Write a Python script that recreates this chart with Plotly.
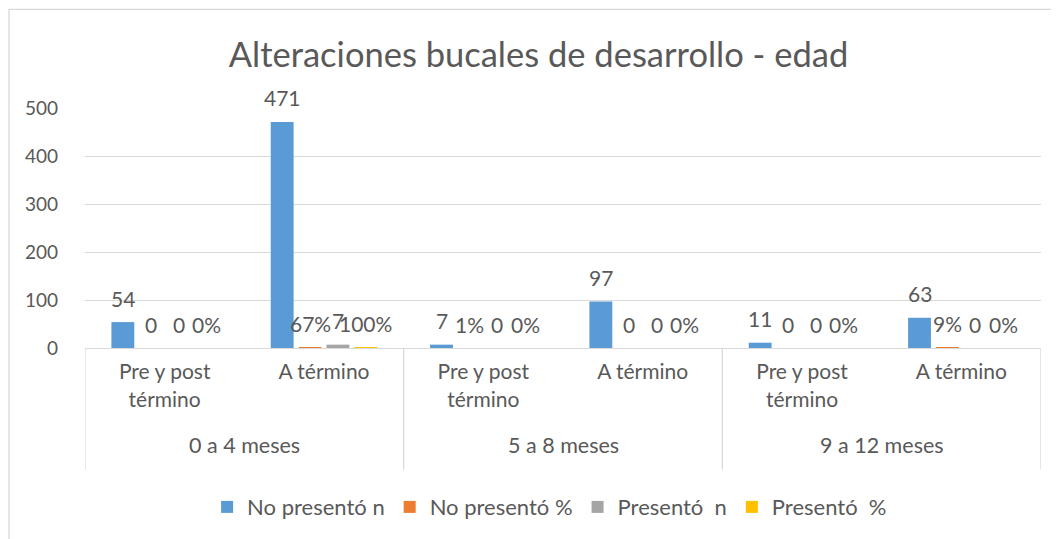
import plotly.graph_objects as go

groups = ["0 a 4 meses", "5 a 8 meses", "9 a 12 meses"]
subcats = ["Pre y post<br>término", "A término"] * 3
series_names = ["No presentó n", "No presentó %", "Presentó\u00a0 n", "Presentó\u00a0 %"]
no_pres_n = [54, 471, 7, 97, 11, 63]
no_pres_pct = [0, 0.67, 0.01, 0, 0, 0.09]
no_pres_pct_lbl = ["0", "67%", "1%", "0", "0", "9%"]
pres_n = [0, 7, 0, 0, 0, 0]
pres_pct = [0, 1.0, 0, 0, 0, 0]
pres_pct_lbl = ["0%", "100%", "0%", "0%", "0%", "0%"]
y_ticks = [0, 100, 200, 300, 400, 500]

colors = ["#5B9BD5", "#ED7D31", "#A5A5A5", "#FFC000"]
FONT = "Lato"
TXT = "#595959"
GRID = "#D9D9D9"
BARGAP = 0.30

values = [no_pres_n, no_pres_pct, pres_n, pres_pct]
labels = [[str(v) for v in no_pres_n], no_pres_pct_lbl,
          [str(v) for v in pres_n], pres_pct_lbl]

xs = list(range(len(subcats)))
fig = go.Figure()
for name, vals, col in zip(series_names, values, colors):
    fig.add_trace(go.Bar(x=xs, y=vals, name=name, marker_color=col,
                         marker_line_width=0))

slot = (1 - BARGAP) / len(values)
annotations = []
for k, (vals, lbls) in enumerate(zip(values, labels)):
    off = (k - (len(values) - 1) / 2) * slot
    for i, (v, t) in enumerate(zip(vals, lbls)):
        annotations.append(dict(x=i + off, y=v, xref="x", yref="y", text=t,
                                showarrow=False, yanchor="middle", yshift=24,
                                font=dict(family=FONT, size=21, color=TXT)))

# group labels
for g, name in enumerate(groups):
    annotations.append(dict(x=2 * g + 0.5, y=-0.4025, xref="x", yref="paper",
                            text=name, showarrow=False, yanchor="middle",
                            font=dict(family=FONT, size=21.5, color=TXT)))

shapes = []
for b in [-0.5, 1.5, 3.5, 5.5]:
    shapes.append(dict(type="line", xref="x", yref="paper", x0=b, x1=b,
                       y0=0, y1=-0.506, line=dict(color=GRID, width=1.3)))
shapes.append(dict(type="rect", xref="paper", yref="paper", x0=-0.0795, x1=1.2,
                   y0=-1.2, y1=1.411, line=dict(color=GRID, width=1.3)))

W, H = 1051, 531
fig.update_layout(
    width=W, height=H,
    margin=dict(l=77, r=18, t=100, b=190),
    paper_bgcolor="white", plot_bgcolor="white",
    barmode="group", bargap=BARGAP, bargroupgap=0.18,
    title=dict(text="Alteraciones bucales de desarrollo - edad",
               x=0.4744, xref="paper", xanchor="center",
               y=1 - 47 / H, yref="container", yanchor="middle",
               font=dict(family=FONT, size=34.5, color=TXT)),
    font=dict(family=FONT, size=21, color=TXT),
    xaxis=dict(range=[-0.5, 5.5], tickmode="array", tickvals=xs, ticktext=subcats,
               showgrid=False, showline=True, linecolor=GRID, linewidth=1.3,
               ticks="", zeroline=False, fixedrange=True, ticklabelstandoff=5,
               tickfont=dict(family=FONT, size=21, color=TXT)),
    yaxis=dict(range=[0, 500], tickmode="array", tickvals=y_ticks,
               showgrid=True, gridcolor=GRID, gridwidth=1.3, zeroline=False,
               showline=False, ticks="", ticklabelstandoff=26,
               tickfont=dict(family=FONT, size=19, color=TXT)),
    legend=dict(orientation="h", x=0.486, xanchor="center", xref="paper",
                y=-0.656, yanchor="middle", itemwidth=30,
                font=dict(family=FONT, size=22, color=TXT),
                traceorder="normal"),
    annotations=annotations, shapes=shapes,
    showlegend=True,
)
fig.write_html("out.html")
